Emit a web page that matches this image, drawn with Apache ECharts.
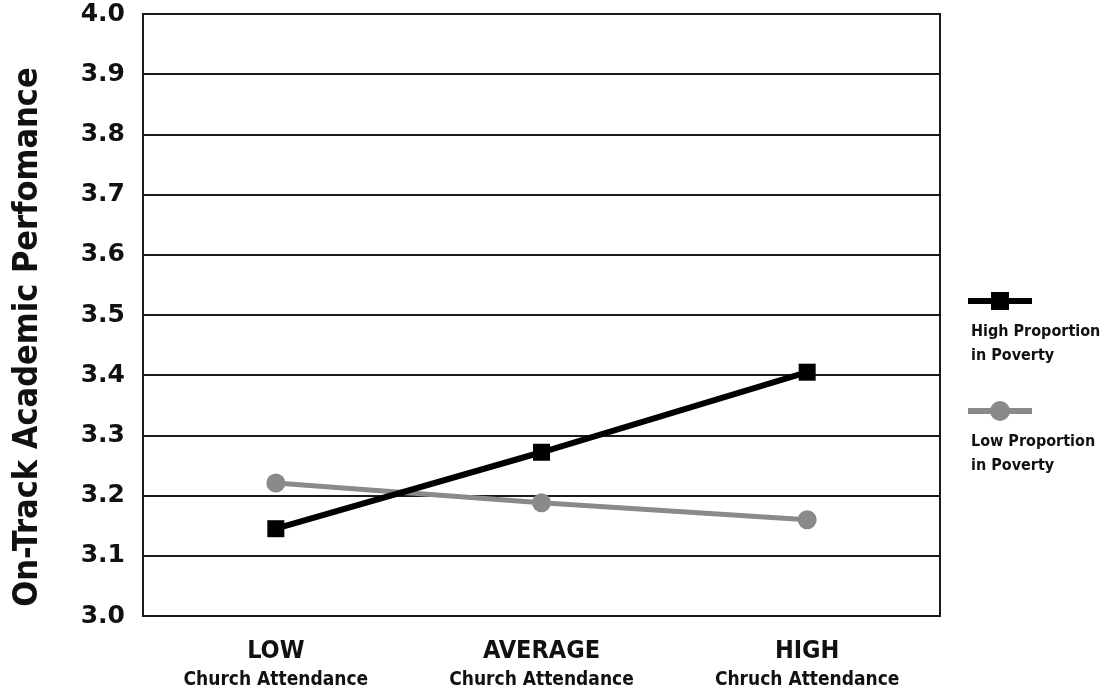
<!DOCTYPE html>
<html>
<head>
<meta charset="utf-8">
<script src="https://cdn.jsdelivr.net/npm/echarts@6/dist/echarts.min.js"></script>
<style>
html,body{margin:0;padding:0;background:#fff;}
#chart{width:1104px;height:696px;}
</style>
</head>
<body>
<div id="chart"></div>
<script>
// ---- data ----
const categories = ['LOW', 'AVERAGE', 'HIGH'];
const categorySubLabels = ['Church Attendance', 'Church Attendance', 'Chruch Attendance'];
const highPovertyValues = [3.145, 3.272, 3.405];
const lowPovertyValues = [3.221, 3.188, 3.160];
const seriesNames = ['High Proportion in Poverty', 'Low Proportion in Poverty'];
const legendLines = [['High Proportion', 'in Poverty'], ['Low Proportion', 'in Poverty']];
const yMin = 3.0, yMax = 4.0, yStep = 0.1;
const yTitle = 'On-Track Academic Perfomance';

// ---- styles ----
const COND = "'Liberation Sans Narrow', 'DejaVu Sans Condensed', 'Roboto Condensed', 'Open Sans Condensed', 'Liberation Sans', sans-serif";
const BLACK = '#000000';
const GRAY = '#8a8a8a';

const chart = echarts.init(document.getElementById('chart'), null, {renderer: 'canvas'});

const legendGraphic = [];
const legendStyle = [
  {color: BLACK, y: 301, symbol: 'rect'},
  {color: GRAY, y: 411, symbol: 'circle'}
];
legendStyle.forEach((s, i) => {
  legendGraphic.push({
    type: 'line', shape: {x1: 968, y1: s.y, x2: 1032, y2: s.y},
    style: {stroke: s.color, lineWidth: 6}
  });
  if (s.symbol === 'rect') {
    legendGraphic.push({type: 'rect', shape: {x: 991, y: s.y - 9, width: 18, height: 18}, style: {fill: s.color}});
  } else {
    legendGraphic.push({type: 'circle', shape: {cx: 1000, cy: s.y, r: 10}, style: {fill: s.color}});
  }
  legendGraphic.push({
    type: 'text', left: 971, top: s.y + 19,
    style: {
      text: legendLines[i].join('\n'),
      font: "bold 16px " + COND,
      fill: '#111', lineHeight: 24
    }
  });
});

const option = {
  backgroundColor: '#ffffff',
  animation: false,
  grid: {left: 143, right: 164, top: 14, bottom: 80, containLabel: false, outerBoundsMode: 'none',
         show: true, borderColor: '#1a1a1a', borderWidth: 2, backgroundColor: 'transparent'},
  xAxis: {
    type: 'category',
    data: categories,
    boundaryGap: true,
    axisLine: {show: true, lineStyle: {color: '#1a1a1a', width: 2}},
    axisTick: {show: false},
    splitLine: {show: false},
    axisLabel: {
      margin: 19,
      interval: 0,
      formatter: (v, i) => '{a|' + v + '}\n{b|' + categorySubLabels[i] + '}',
      rich: {
        a: {fontFamily: COND, fontWeight: 'bold', fontSize: 25, color: '#111', lineHeight: 32},
        b: {fontFamily: COND, fontWeight: 'bold', fontSize: 19, color: '#111', lineHeight: 26}
      }
    }
  },
  yAxis: {
    type: 'value',
    min: yMin, max: yMax, interval: yStep,
    name: yTitle,
    nameLocation: 'middle',
    nameRotate: 90,
    nameGap: 98,
    nameTextStyle: {fontFamily: COND, fontWeight: 'bold', fontSize: 34, color: '#111', padding: [0, 44, 0, 0]},
    axisLine: {show: true, lineStyle: {color: '#1a1a1a', width: 2}},
    axisTick: {show: false},
    splitLine: {show: true, lineStyle: {color: '#1a1a1a', width: 2}},
    axisLabel: {
      margin: 18,
      formatter: v => v.toFixed(1),
      fontFamily: "'DejaVu Sans', sans-serif",
      fontWeight: 'bold',
      fontSize: 25,
      color: '#111'
    }
  },
  series: [
    {
      name: seriesNames[0], type: 'line', data: highPovertyValues, z: 4,
      symbol: 'rect', symbolSize: 17, showSymbol: true,
      lineStyle: {color: BLACK, width: 6},
      itemStyle: {color: BLACK}
    },
    {
      name: seriesNames[1], type: 'line', data: lowPovertyValues, z: 3,
      symbol: 'circle', symbolSize: 19, showSymbol: true,
      lineStyle: {color: GRAY, width: 5},
      itemStyle: {color: GRAY}
    }
  ],
  graphic: legendGraphic
};
chart.setOption(option);
</script>
</body>
</html>
